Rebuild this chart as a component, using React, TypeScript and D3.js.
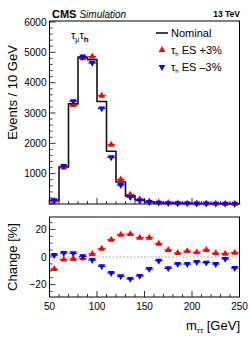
import { useEffect, useRef } from 'react';
import * as d3 from 'd3';

// bin edges 50..250 in 10 GeV steps
const binEdges = [50, 60, 70, 80, 90, 100, 110, 120, 130, 140, 150, 160, 170, 180, 190, 200, 210, 220, 230, 240, 250];
const nominal = [120, 1220, 3300, 4840, 4760, 3380, 1740, 725, 268, 135, 72, 45, 32, 25, 20, 17, 15, 13, 11, 10];
const esUp = [110, 1200, 3260, 4800, 4860, 3570, 1955, 810, 310, 155, 82, 49, 34, 26, 21, 18, 16, 13, 11, 10];
const esDown = [125, 1250, 3390, 4860, 4650, 3150, 1540, 625, 225, 117, 66, 44, 29, 24, 19, 16, 14, 12, 11, 9];
const changeUp = [-8.7, -1.9, -1.4, -1.0, 2.2, 6.0, 12.5, 16.1, 16.6, 14.0, 14.0, 9.6, 5.1, 2.9, 4.3, 3.4, 5.1, 2.7, 2.4, 3.1];
const changeDown = [1.4, 2.9, 2.7, 0.5, -2.2, -6.7, -11.6, -14.0, -15.9, -13.7, -8.7, -2.7, -8.2, -5.1, -5.1, -3.6, -4.1, -5.1, -1.4, -8.0];
const upperTicks = [1000, 2000, 3000, 4000, 5000, 6000];
const lowerTicks = [-20, 0, 20];
const xTicks = [50, 100, 150, 200, 250];

const FONT = 'Liberation Sans, Arial, sans-serif';

export default function App() {
  const svgRef = useRef<SVGSVGElement>(null);

  useEffect(() => {
    document.body.style.margin = '0';
    if (!svgRef.current) return;
    const svg = d3.select(svgRef.current);
    svg.selectAll('*').remove();

    const left = 49.5;
    const right = 239.5;
    const upTop = 21;
    const upBottom = 204;
    const loTop = 217;
    const loBottom = 297;

    const x = d3.scaleLinear().domain([50, 250]).range([left, right]);
    const yUp = d3.scaleLinear().domain([0, 6000]).range([upBottom, upTop + 1]);
    const yLo = d3.scaleLinear().domain([-29, 29]).range([loBottom, loTop]);

    const centers = binEdges.slice(0, -1).map((e, i) => (e + binEdges[i + 1]) / 2);

    // frames
    [[upTop, upBottom], [loTop, loBottom]].forEach(([t, b]) => {
      svg.append('rect')
        .attr('x', left).attr('y', t)
        .attr('width', right - left).attr('height', b - t)
        .attr('fill', 'none').attr('stroke', '#000').attr('stroke-width', 1);
    });

    // x ticks on both pads
    const xMinor = d3.range(50, 251, 10);
    [upBottom, loBottom].forEach((b) => {
      svg.append('g').selectAll('line').data(xMinor).enter().append('line')
        .attr('x1', (d) => x(d)).attr('x2', (d) => x(d))
        .attr('y1', b).attr('y2', (d) => b - (d % 50 === 0 ? 6 : 3))
        .attr('stroke', '#000').attr('stroke-width', 0.8);
    });

    // upper y ticks
    const yMinor = d3.range(0, 6001, 200);
    svg.append('g').selectAll('line').data(yMinor).enter().append('line')
      .attr('x1', left).attr('x2', (d) => left + (d % 1000 === 0 ? 6 : 3))
      .attr('y1', (d) => yUp(d)).attr('y2', (d) => yUp(d))
      .attr('stroke', '#000').attr('stroke-width', 0.8);
    svg.append('g').selectAll('text').data(upperTicks).enter().append('text')
      .attr('x', left - 3).attr('y', (d) => yUp(d) + 3.5)
      .attr('text-anchor', 'end')
      .style('font-family', FONT).style('font-size', '10px')
      .text((d) => d);

    // lower y ticks
    const loMinor = d3.range(-25, 26, 5);
    svg.append('g').selectAll('line').data(loMinor).enter().append('line')
      .attr('x1', left).attr('x2', (d) => left + (d % 20 === 0 ? 6 : 3))
      .attr('y1', (d) => yLo(d)).attr('y2', (d) => yLo(d))
      .attr('stroke', '#000').attr('stroke-width', 0.8);
    svg.append('g').selectAll('text').data(lowerTicks).enter().append('text')
      .attr('x', left - 3).attr('y', (d) => yLo(d) + 3.5)
      .attr('text-anchor', 'end')
      .style('font-family', FONT).style('font-size', '10px')
      .text((d) => (d < 0 ? `\u2212${-d}` : `${d}`));

    // x labels
    svg.append('g').selectAll('text').data(xTicks).enter().append('text')
      .attr('x', (d) => x(d)).attr('y', loBottom + 13)
      .attr('text-anchor', 'middle')
      .style('font-family', FONT).style('font-size', '10px')
      .text((d) => d);

    // zero line lower pad
    svg.append('line')
      .attr('x1', left).attr('x2', right)
      .attr('y1', yLo(0)).attr('y2', yLo(0))
      .attr('stroke', '#999').attr('stroke-width', 0.8)
      .attr('stroke-dasharray', '2,1.5');

    // nominal histogram
    const stepPts: [number, number][] = [[binEdges[0], 0]];
    nominal.forEach((v, i) => {
      stepPts.push([binEdges[i], v]);
      stepPts.push([binEdges[i + 1], v]);
    });
    stepPts.push([250, 0]);
    const line = d3.line<[number, number]>().x((d) => x(d[0])).y((d) => yUp(d[1]));
    svg.append('path')
      .attr('d', line(stepPts))
      .attr('fill', 'none').attr('stroke', '#111').attr('stroke-width', 1.6);

    const tri = d3.symbol().type(d3.symbolTriangle).size(20);
    const drawPoints = (vals: number[], yScale: d3.ScaleLinear<number, number>, color: string, down: boolean) => {
      const g = svg.append('g');
      g.selectAll('line').data(vals).enter().append('line')
        .attr('x1', (d, i) => x(binEdges[i]) + 0.8)
        .attr('x2', (d, i) => x(binEdges[i + 1]) - 0.8)
        .attr('y1', (d) => yScale(d)).attr('y2', (d) => yScale(d))
        .attr('stroke', color).attr('stroke-width', 1.2);
      g.selectAll('path').data(vals).enter().append('path')
        .attr('d', tri)
        .attr('transform', (d, i) => `translate(${x(centers[i])},${yScale(d)}) rotate(${down ? 180 : 0})`)
        .attr('fill', color);
    };

    drawPoints(esUp, yUp, '#ff0000', false);
    drawPoints(esDown, yUp, '#0000ff', true);
    drawPoints(changeUp, yLo, '#ff0000', false);
    drawPoints(changeDown, yLo, '#0000ff', true);

    // header
    const head = svg.append('text').attr('x', 52).attr('y', 17.5).style('font-family', FONT);
    head.append('tspan').style('font-weight', 'bold').style('font-size', '11px').text('CMS');
    head.append('tspan').attr('dx', 3).style('font-style', 'italic').style('font-size', '10px').text('Simulation');
    svg.append('text').attr('x', 240).attr('y', 16.5).attr('text-anchor', 'end')
      .style('font-family', FONT).style('font-size', '8.5px').style('font-weight', 'bold')
      .text('13 TeV');

    // channel label
    const ch = svg.append('text').attr('x', 71).attr('y', 39).style('font-family', FONT).style('font-size', '11px');
    ch.append('tspan').text('\u03c4');
    ch.append('tspan').attr('dy', 3).style('font-size', '7px').text('\u03bc');
    ch.append('tspan').attr('dy', -3).text('\u03c4');
    ch.append('tspan').attr('dy', 3).style('font-size', '8px').style('font-weight', 'bold').text('h');

    // legend
    svg.append('line').attr('x1', 156).attr('x2', 168).attr('y1', 33).attr('y2', 33)
      .attr('stroke', '#111').attr('stroke-width', 1.6);
    svg.append('text').attr('x', 171).attr('y', 37)
      .style('font-family', FONT).style('font-size', '11px').text('Nominal');
    const legendEntries = [
      { label: '+3%', color: '#ff0000', down: false, y: 50 },
      { label: '\u20133%', color: '#0000ff', down: true, y: 67 },
    ];
    legendEntries.forEach((e) => {
      svg.append('path').attr('d', tri)
        .attr('transform', `translate(162,${e.y}) rotate(${e.down ? 180 : 0})`)
        .attr('fill', e.color);
      const t = svg.append('text').attr('x', 171).attr('y', e.y + 4)
        .style('font-family', FONT).style('font-size', '11px');
      t.append('tspan').text('\u03c4');
      t.append('tspan').attr('dy', 2).style('font-size', '6px').text('h');
      t.append('tspan').attr('dy', -2).text(` ES ${e.label}`);
    });

    // axis titles
    svg.append('text')
      .attr('transform', `translate(17,${(upTop + upBottom) / 2 - 20}) rotate(-90)`)
      .attr('text-anchor', 'middle')
      .style('font-family', FONT).style('font-size', '13px')
      .text('Events / 10 GeV');
    svg.append('text')
      .attr('transform', `translate(17,${(loTop + loBottom) / 2}) rotate(-90)`)
      .attr('text-anchor', 'middle')
      .style('font-family', FONT).style('font-size', '13px')
      .text('Change [%]');
    const xt = svg.append('text').attr('x', 240).attr('y', 330).attr('text-anchor', 'end')
      .style('font-family', FONT).style('font-size', '13px');
    xt.append('tspan').text('m');
    xt.append('tspan').attr('dy', 3).style('font-size', '8px').text('\u03c4\u03c4');
    xt.append('tspan').attr('dy', -3).text(' [GeV]');
  }, []);

  return (
    <div style={{ width: 249, height: 340, background: '#fff' }}>
      <svg ref={svgRef} width={249} height={340}></svg>
    </div>
  );
}
